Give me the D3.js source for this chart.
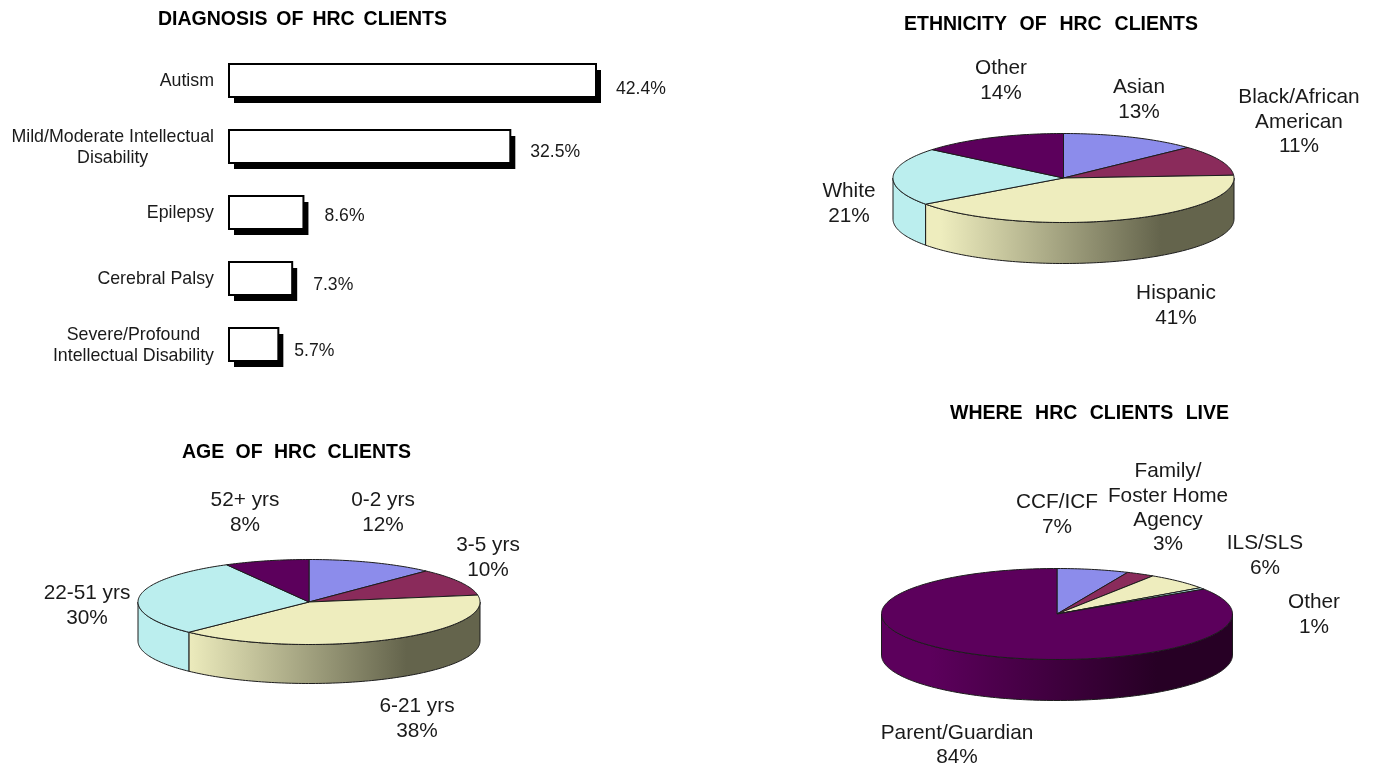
<!DOCTYPE html>
<html><head><meta charset="utf-8">
<script src="https://cdn.jsdelivr.net/npm/d3@7"></script>
<style>html,body{margin:0;background:#fff}svg{display:block;filter:blur(0.4px)}text{font-family:"Liberation Sans",Arial,sans-serif;fill:#1a1a1a}</style>
</head><body><svg id="c" width="1377" height="768"></svg>
<script>
// Diagnosis bars
const diagnosisCategories = [["Autism"],["Mild/Moderate Intellectual","Disability"],["Epilepsy"],["Cerebral Palsy"],["Severe/Profound","Intellectual Disability"]];
const diagnosisValues = [42.4,32.5,8.6,7.3,5.7];
// Ethnicity pie
const ethnicityCategories = [["Asian"],["Black/African","American"],["Hispanic"],["White"],["Other"]];
const ethnicityShares = [13,11,41,21,14];
const ethnicityPercents = [13,11,41,21,14];
// Age pie: shares are the slice sizes as drawn; percents are the printed labels
const ageCategories = [["0-2 yrs"],["3-5 yrs"],["6-21 yrs"],["22-51 yrs"],["52+ yrs"]];
const ageShares = [12,10.4,40,29.6,8];
const agePercents = [12,10,38,30,8];
// Residence pie
const liveCategories = [["CCF/ICF"],["Family/","Foster Home","Agency"],["ILS/SLS"],["Other"],["Parent/Guardian"]];
const liveShares = [6.6,2.6,6,0.6,84.2];
const livePercents = [7,3,6,1,84];

const sliceColors = ["#8c8ceb","#8a2b5b","#eeedbe","#bbeeee","#5c005c"];
const barLabelShift = [[0,1],[0,-2],[1,-4],[1,-1],[-4,-1]];
const svg = d3.select("#c");
const defs = svg.append("defs");

function title(t,x,y,w){
  const el = svg.append("text").attr("x",x).attr("y",y).attr("dy","0.36em").attr("text-anchor","middle")
    .attr("font-size",19.5).attr("font-weight","bold").style("fill","#000").text(t);
  const gaps = t.split(" ").length-1;
  el.attr("word-spacing",(w-el.node().getComputedTextLength())/gaps);
}
function lines(arr,x,y,lh,size,anchor){
  const t = svg.append("text").attr("text-anchor",anchor).attr("font-size",size);
  arr.forEach((s,i)=>t.append("tspan").attr("x",x).attr("y",y+i*lh).attr("dy","0.36em").text(s));
  return t;
}

// ---- Bars
const xBar = d3.scaleLinear().domain([0,42.4]).range([229,596]);
const yBar = d3.scaleBand().domain(d3.range(diagnosisValues.length)).range([64,361]).paddingInner(0.5).paddingOuter(0);
const rows = svg.append("g").selectAll("g").data(diagnosisValues).join("g");
rows.append("rect").attr("x",xBar(0)+5).attr("y",(d,i)=>yBar(i)+6)
  .attr("width",d=>xBar(d)-xBar(0)).attr("height",yBar.bandwidth()).attr("fill","#000");
rows.append("rect").attr("x",xBar(0)).attr("y",(d,i)=>yBar(i))
  .attr("width",d=>xBar(d)-xBar(0)).attr("height",yBar.bandwidth())
  .attr("fill","#fff").attr("stroke","#000").attr("stroke-width",2);
diagnosisValues.forEach((d,i)=>{
  const c = yBar(i)+yBar.bandwidth()/2;
  svg.append("text").attr("x",xBar(d)+20+barLabelShift[i][0]).attr("y",c+6+barLabelShift[i][1])
    .attr("dy","0.36em").attr("font-size",17.6).text(d.toFixed(1)+"%");
  const ls = diagnosisCategories[i];
  // multi-line labels are centred on each other, with the block's right edge at the axis gap
  const t = lines(ls,0,c-(ls.length-1)*10.5-0.5,21,17.8,"middle");
  const w = d3.max(t.selectAll("tspan").nodes(),n=>n.getComputedTextLength());
  t.selectAll("tspan").attr("x",214-w/2);
});

// ---- Pies
function pie3d(o){
  const {cx,cy,rx,ry,depth,shares,id} = o;
  const px = a=>cx+rx*Math.sin(a), py = (a,dz=0)=>cy-ry*Math.cos(a)+dz;
  const arcs = d3.pie().sort(null)(shares);
  const path = d3.line().x(p=>p[0]).y(p=>p[1]);
  const samp = (a0,a1,dz)=>{const n=Math.max(2,Math.ceil(Math.abs(a1-a0)/0.02));
    return d3.range(n+1).map(k=>{const a=a0+(a1-a0)*k/n;return [px(a),py(a,dz)];});};
  sliceColors.forEach((c,i)=>{
    const g = defs.append("linearGradient").attr("id",id+i).attr("gradientUnits","userSpaceOnUse")
      .attr("x1",cx-0.72*rx).attr("x2",cx+0.57*rx).attr("y1",0).attr("y2",0);
    const rgb = d3.rgb(c);
    const dark = d3.rgb(rgb.r*0.42,rgb.g*0.42,rgb.b*0.4);
    g.append("stop").attr("offset",0).attr("stop-color",c);
    g.append("stop").attr("offset",1).attr("stop-color",dark.formatHex());
  });
  const G = svg.append("g").attr("stroke","#1c1c1c").attr("stroke-width",1).attr("stroke-linejoin","round");
  arcs.forEach((d,i)=>{
    const a0=Math.max(d.startAngle,Math.PI/2), a1=Math.min(d.endAngle,3*Math.PI/2);
    if(a1<=a0) return;
    const pts = samp(a0,a1,0).concat(samp(a1,a0,depth));
    G.append("path").attr("d",path(pts)+"Z").attr("fill",`url(#${id}${i})`);
  });
  arcs.forEach((d,i)=>{
    const pts = [[cx,cy]].concat(samp(d.startAngle,d.endAngle,0));
    G.append("path").attr("d",path(pts)+"Z").attr("fill",sliceColors[i]);
  });
}
function pieLabels(cats,pcts,anchors){
  cats.forEach((ls,i)=>{
    lines(ls.concat([pcts[i]+"%"]),anchors[i][0],anchors[i][1],24.2,20.8,"middle");
  });
}

title("DIAGNOSIS OF HRC CLIENTS",302.5,18,289);
title("ETHNICITY OF HRC CLIENTS",1051,23,294);
title("AGE OF HRC CLIENTS",296.5,451,229);
title("WHERE HRC CLIENTS LIVE",1089.5,412,279);

pie3d({id:"eth",cx:1063.5,cy:178,rx:170.5,ry:44.5,depth:41,shares:ethnicityShares});
pie3d({id:"age",cx:309,cy:602,rx:171,ry:42.5,depth:39,shares:ageShares});
pie3d({id:"liv",cx:1057,cy:614,rx:175.5,ry:45.5,depth:41,shares:liveShares});

pieLabels(ethnicityCategories,ethnicityPercents,[[1139,86],[1299,96],[1176,292],[849,190],[1001,67]]);
pieLabels(ageCategories,agePercents,[[383,499],[488,544],[417,705],[87,592],[245,499]]);
pieLabels(liveCategories,livePercents,[[1057,501],[1168,470],[1265,542],[1314,601],[957,731.5]]);
</script></body></html>
